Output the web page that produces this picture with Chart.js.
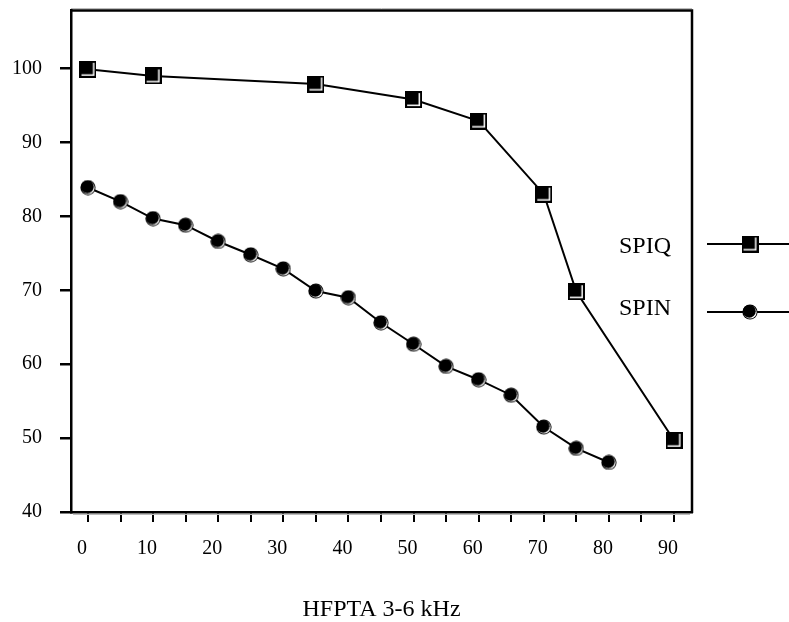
<!DOCTYPE html>
<html>
<head>
<meta charset="utf-8">
<script src="https://cdn.jsdelivr.net/npm/chart.js@4.4.1/dist/chart.umd.min.js"></script>
<style>
html,body{margin:0;padding:0;background:#fff;}
#wrap{width:789px;height:622px;position:relative;}
</style>
</head>
<body>
<div id="wrap"><canvas id="c" width="789" height="622"></canvas></div>
<script>
// ---- data ----
const xTickValues = [0,5,10,15,20,25,30,35,40,45,50,55,60,65,70,75,80,85,90];
const xLabelValues = [0,10,20,30,40,50,60,70,80,90];
const yTickValues = [40,50,60,70,80,90,100];
const seriesNames = ['SPIQ','SPIN'];
const spiqX = [0,10,35,50,60,70,75,90];
const spiqY = [99.9,99.0,97.9,95.8,92.9,83.0,69.8,49.7];
const spinX = [0,5,10,15,20,25,30,35,40,45,50,55,60,65,70,75,80];
const spinY = [83.9,82.0,79.7,78.8,76.6,74.8,72.9,69.9,69.0,65.6,62.7,59.7,57.9,55.8,51.5,48.6,46.7];
const xAxisTitle = 'HFPTA 3-6 kHz';

const FONT = "'Liberation Serif','Times New Roman',serif";

function makeSquare(){
  const s = 17, c = document.createElement('canvas');
  c.width = s; c.height = s;
  const g = c.getContext('2d');
  g.fillStyle = '#000'; g.fillRect(0,0,s,s);
  g.fillStyle = '#fff'; g.fillRect(2,2,s-4,s-4);
  g.fillStyle = '#000'; g.fillRect(2,2,s-5.5,s-5.5);
  return c;
}
function makeCircle(){
  const s = 16, c = document.createElement('canvas');
  c.width = s; c.height = s;
  const g = c.getContext('2d');
  g.fillStyle = '#000';
  g.beginPath(); g.arc(8,8,7.6,0,Math.PI*2); g.fill();
  g.fillStyle = '#fff';
  g.beginPath(); g.arc(8.2,8.2,6.4,0,Math.PI*2); g.fill();
  g.fillStyle = '#000';
  g.beginPath(); g.arc(7.3,7.3,6.4,0,Math.PI*2); g.fill();
  return c;
}
const sqImg = makeSquare();
const ciImg = makeCircle();

const boxPlugin = {
  id: 'box',
  afterDraw(chart){
    const {ctx, chartArea:a} = chart;
    ctx.save();
    ctx.strokeStyle = '#bbb'; ctx.lineWidth = 1;
    ctx.beginPath(); ctx.moveTo(a.left, a.top-1.5); ctx.lineTo(a.right, a.top-1.5); ctx.stroke();
    ctx.beginPath(); ctx.moveTo(a.left+2, a.bottom+2.5); ctx.lineTo(a.right-2, a.bottom+2.5); ctx.stroke();
    ctx.strokeStyle = '#000'; ctx.lineWidth = 2.5;
    ctx.beginPath();
    ctx.moveTo(a.left-1, a.top+0.5);
    ctx.lineTo(a.right, a.top+0.5);
    ctx.lineTo(a.right, a.bottom+1);
    ctx.stroke();
    // legend
    const items = [
      {name: seriesNames[0], img: sqImg, ty: 247, ly: 244},
      {name: seriesNames[1], img: ciImg, ty: 309, ly: 312}
    ];
    ctx.font = "24px " + FONT;
    ctx.fillStyle = '#000';
    ctx.textAlign = 'left';
    ctx.textBaseline = 'middle';
    items.forEach(it => {
      ctx.fillText(it.name, 619, it.ty);
      ctx.lineWidth = 2;
      ctx.beginPath(); ctx.moveTo(707, it.ly); ctx.lineTo(789, it.ly); ctx.stroke();
      ctx.drawImage(it.img, 750 - it.img.width/2, it.ly - it.img.height/2);
    });
    ctx.restore();
  }
};

new Chart(document.getElementById('c'), {
  type: 'line',
  data: {
    datasets: [
      {
        label: seriesNames[0],
        data: spiqX.map((x,i)=>({x:x, y:spiqY[i]})),
        borderColor: '#000', borderWidth: 2,
        pointStyle: sqImg, pointRadius: 8, pointHoverRadius: 8,
        tension: 0, fill: false
      },
      {
        label: seriesNames[1],
        data: spinX.map((x,i)=>({x:x, y:spinY[i]})),
        borderColor: '#000', borderWidth: 2,
        pointStyle: ciImg, pointRadius: 8, pointHoverRadius: 8,
        tension: 0, fill: false
      }
    ]
  },
  options: {
    responsive: false,
    animation: false,
    devicePixelRatio: 1,
    layout: { padding: {left: 0, top: 6, right: 97, bottom: 0} },
    plugins: { legend: {display:false}, tooltip: {enabled:false} },
    scales: {
      x: {
        type: 'linear',
        min: -2.61, max: 92.76,
        afterBuildTicks(s){ s.ticks = xTickValues.map(v=>({value:v})); },
        afterFit(s){ s.height = 110; s.paddingLeft = 0; s.paddingRight = 0; },
        grid: { display: true, drawOnChartArea: false, drawTicks: true, tickLength: 10, color: '#000', lineWidth: 2 },
        border: { display: true, color: '#000', width: 2.5 },
        ticks: {
          color: '#000', font: {family: FONT, size: 20}, padding: 15, labelOffset: -6,
          maxRotation: 0, autoSkip: false,
          callback: (v) => xLabelValues.includes(v) ? String(v) : ''
        },
        title: { display: true, text: xAxisTitle, color: '#000', font: {family: FONT, size: 24, lineHeight: 1}, padding: {top:0, bottom:0} }
      },
      y: {
        type: 'linear',
        min: 40, max: 107.92,
        afterBuildTicks(s){ s.ticks = yTickValues.map(v=>({value:v})); },
        afterFit(s){ s.width = 71; s.paddingTop = 0; s.paddingBottom = 0; },
        grid: { display: true, drawOnChartArea: false, drawTicks: true, tickLength: 11, color: '#000', lineWidth: 2.5 },
        border: { display: true, color: '#000', width: 2.5 },
        ticks: { color: '#000', font: {family: FONT, size: 20}, padding: 18, autoSkip: false, callback: (v)=>String(v) }
      }
    }
  },
  plugins: [boxPlugin]
});
</script>
</body>
</html>
